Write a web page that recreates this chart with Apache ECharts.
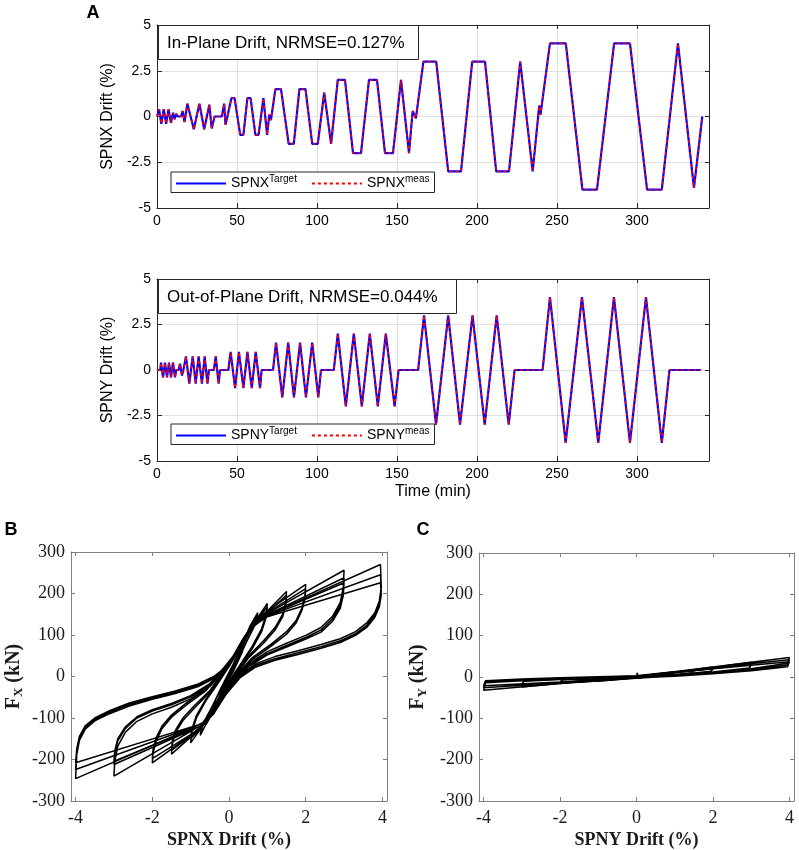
<!DOCTYPE html>
<html>
<head>
<meta charset="utf-8">
<script src="https://cdn.jsdelivr.net/npm/echarts@6/dist/echarts.min.js"></script>
<style>
  html, body { margin: 0; padding: 0; background: #fff; }
  #chart { width: 799px; height: 850px; }
</style>
</head>
<body>
<div id="chart"></div>
<script>
// drift histories, [time (min), drift (%)]
const spnxTarget = [
  [0,0],[1.3,0.4],[2.7,-0.4],[4.2,0.4],[5.7,-0.4],[7.2,0.4],[8.7,-0.35],[10,0.2],[11,-0.15],[12,0.15],[13,0],[15,0],[16,0.3],[17.2,-0.3],
  [19,0.7],[20,0.7],[23,-0.7],[24,-0.7],[26.5,0.7],[27.5,0.7],[29.5,-0.7],[30.5,-0.7],[32.7,0.65],[34.2,-0.65],[36,0],[40.5,0],[42,0.7],[42.8,-0.45],[44,0],
  [46.5,1],[48.5,1],[52,-1],[54,-1],[56.5,1],[58.5,1],[61.5,-1],[63.5,-1],[66.5,1],[68.8,-1],[70.2,0.1],[71.2,-0.2],
  [74,1.5],[77.5,1.5],[82.3,-1.5],[85.5,-1.5],[89,1.5],[92.8,1.5],[97,-1.5],[100.5,-1.5],[104.5,1.3],[108.8,-1.5],
  [113,2],[117.5,2],[122.5,-2],[127.5,-2],[132.5,2],[137.5,2],[142.5,-2],[147.5,-2],[152.5,2],[157.5,-2],[159.8,0.3],[160.8,0.1],[161.8,-0.1],
  [166.5,3],[174.5,3],[182,-3],[190,-3],[197,3],[205,3],[212,-3],[220,-3],[227,3],[234.8,-3],[238.9,0.6],[239.7,0.1],[240.6,0.7],
  [245.6,4],[255.5,4],[265.9,-4],[275,-4],[285.7,4],[295.6,4],[306.3,-4],[315.5,-4],[325.6,4],[335.6,-3.9],[340.8,0]
];
// measured follows the target to within the line width
const spnxMeas = spnxTarget;

const spnyTarget = [
  [0,0],[2,0],[2.5,0.4],[3.75,-0.4],[5,0.4],[6.25,-0.4],[7.5,0.4],[8.75,-0.4],[10,0.4],[11.25,-0.4],[12,0],[13.5,0],[14.4,0.35],[15.6,-0.3],[16.5,0],
  [18.1,0.75],[20.2,-0.75],[22.3,0.75],[24.2,-0.75],[26,0.75],[28.1,-0.75],[29.8,0.75],[31.5,-0.75],[32.5,0],[35.5,0],[36.7,0.75],[38.5,-0.75],[39.4,0],[44.6,0],
  [46,1],[48.8,-1],[51.2,1],[54,-1],[56.5,1],[59.2,-1],[61.7,1],[64.4,-1],[65.4,0],[72.5,0],
  [74.4,1.5],[78.3,-1.5],[82,1.5],[85.6,-1.5],[89.4,1.5],[93.1,-1.5],[97,1.5],[100.8,-1.5],[102.5,0],[110.5,0],
  [113,2],[118,-2],[123,2],[128,-2],[133,2],[138,-2],[143,2],[148.5,-2],[151,0],[163.2,0],
  [166.9,3],[174.4,-3],[182,3],[189.4,-3],[197.2,3],[204.8,-3],[212.3,3],[219.8,-3],[223.5,0],[241,0],
  [245.6,4],[255.4,-4],[265.6,4],[275.8,-4],[285.6,4],[295.6,-4],[305.6,4],[315.5,-4],[320.3,0],[340,0]
];
const spnyMeas = spnyTarget;

// Fx vs SPNX drift, [drift (%), force (kN)], one array per drift level
const fxSmall = [[0,0],[0.2,42],[0.4,82],[0.35,62],[0.1,12],[-0.2,-38],[-0.4,-76],[-0.35,-56],[-0.1,-8],[0.2,44],[0.4,84],[0.35,60],[0.1,10],[-0.2,-40],[-0.4,-78],[-0.35,-55],[0,0],
  [0.3,64],[0.55,118],[0.75,150],[0.7,128],[0.45,82],[0.2,32],[-0.1,-22],[-0.35,-70],[-0.55,-108],[-0.75,-138],[-0.7,-118],[-0.45,-74],[-0.2,-26],[0.1,28],[0.35,78],[0.55,122],[0.75,154],[0.7,130],[0.45,84],[0.2,34],[-0.1,-20],[-0.35,-68],[-0.55,-106],[-0.75,-142],[-0.7,-120],[-0.45,-76],[-0.2,-28],[0,5]];
const fx10 = [[0,5],[0.3,62],[0.6,122],[1,176],[0.97,150],[0.85,115],[0.6,72],[0.3,30],[0,-12],[-0.3,-58],[-0.6,-108],[-1,-160],[-0.97,-134],[-0.85,-100],[-0.6,-58],[-0.3,-18],[0,24],
  [0.3,70],[0.6,120],[1,168],[0.97,143],[0.85,108],[0.6,66],[0.3,26],[0,-16],[-0.3,-62],[-0.6,-110],[-1,-150],[-0.97,-127],[-0.85,-94],[-0.6,-54],[-0.3,-14],[0,28]];
const fx15 = [[0,28],[0.3,78],[0.6,124],[1,158],[1.5,205],[1.48,180],[1.4,150],[1.2,118],[0.9,86],[0.5,48],[0.2,8],[-0.1,-32],[-0.4,-76],[-0.7,-116],[-1,-146],[-1.5,-187],[-1.48,-164],[-1.4,-136],[-1.2,-106],[-0.9,-76],[-0.5,-38],[-0.2,2],
  [0.1,42],[0.4,92],[0.7,132],[1,154],[1.5,196],[1.48,172],[1.4,144],[1.2,112],[0.9,80],[0.5,44],[0.2,4],[-0.1,-36],[-0.4,-80],[-0.7,-118],[-1,-143],[-1.5,-178],[-1.48,-157],[-1.4,-130],[-1.2,-100],[-0.9,-70],[-0.5,-34],[-0.2,6],[0.1,46]];
const fx20 = [[0.1,46],[0.4,95],[0.7,134],[1,158],[2,222],[1.98,195],[1.9,165],[1.75,135],[1.5,108],[1.1,78],[0.6,45],[0.25,8],[-0.1,-36],[-0.4,-82],[-0.7,-118],[-1,-142],[-2,-208],[-1.98,-184],[-1.9,-156],[-1.75,-126],[-1.5,-98],[-1.1,-68],[-0.6,-34],[-0.25,4],
  [0.1,44],[0.4,94],[0.7,131],[1,154],[2,212],[1.98,187],[1.9,159],[1.75,129],[1.5,102],[1.1,73],[0.6,40],[0.25,4],[-0.1,-40],[-0.4,-86],[-0.7,-120],[-1,-140],[-2,-198],[-1.98,-175],[-1.9,-148],[-1.75,-120],[-1.5,-93],[-1.1,-63],[-0.6,-29],[-0.25,8],[0.1,48]];
const fx30 = [[0.1,48],[0.4,96],[0.7,133],[1,152],[3,256],[2.98,215],[2.9,178],[2.7,145],[2.4,118],[2,99],[1.5,80],[1,60],[0.5,30],[0.2,0],[-0.1,-40],[-0.4,-86],[-0.7,-116],[-1,-132],[-3,-240],[-2.98,-205],[-2.9,-168],[-2.7,-134],[-2.4,-108],[-2,-90],[-1.5,-74],[-1,-54],[-0.5,-24],[-0.2,6],
  [0.1,44],[0.4,92],[0.7,130],[1,149],[3,238],[2.98,203],[2.9,170],[2.7,139],[2.4,112],[2,94],[1.5,75],[1,55],[0.5,26],[0.2,-4],[-0.1,-44],[-0.4,-88],[-0.7,-117],[-1,-130],[-3,-212],[-2.98,-185],[-2.9,-155],[-2.7,-125],[-2.4,-100],[-2,-83],[-1.5,-68],[-1,-49],[-0.5,-20],[-0.2,8],
  [0.1,42],[0.4,90],[0.7,128],[1,147],[3,226],[2.98,195],[2.9,164],[2.7,133],[2.4,107],[2,90],[1.5,71],[1,52],[0.5,23],[0.2,-6],[-0.1,-46],[-0.4,-90],[-0.7,-118],[-1,-128],[-3,-204],[-2.98,-180],[-2.9,-150],[-2.7,-121],[-2.4,-97],[-2,-80],[-1.5,-65],[-1,-46],[-0.5,-17],[-0.2,10],[0.1,40]];
const fx40 = [[0.1,40],[0.4,90],[0.7,128],[1,148],[3.95,270],[3.97,215],[3.92,182],[3.8,153],[3.6,130],[3.3,108],[2.9,91],[2.4,77],[1.8,62],[1.2,48],[0.7,31],[0.3,5],[-0.1,-40],[-0.4,-84],[-0.7,-112],[-1,-126],[-4,-246],[-3.97,-188],[-3.9,-154],[-3.75,-127],[-3.5,-107],[-3.1,-89],[-2.6,-71],[-2,-55],[-1.4,-41],[-0.8,-24],[-0.4,-5],
  [0,25],[0.3,75],[0.6,118],[1,146],[3.95,245],[3.97,205],[3.92,174],[3.8,147],[3.6,124],[3.3,103],[2.9,86],[2.4,72],[1.8,57],[1.2,43],[0.7,27],[0.3,1],[-0.1,-43],[-0.4,-86],[-0.7,-113],[-1,-124],[-4,-224],[-3.97,-180],[-3.9,-148],[-3.75,-122],[-3.5,-103],[-3.1,-85],[-2.6,-67],[-2,-52],[-1.4,-38],[-0.8,-21],[-0.4,-2],
  [0,27],[0.3,77],[0.6,119],[1,144],[3.95,226],[3.97,196],[3.92,168],[3.8,142],[3.6,119],[3.3,99],[2.9,82],[2.4,68],[1.8,53],[1.2,39],[0.7,23],[0.3,-2],[-0.1,-45],[-0.4,-88],[-0.7,-114],[-1,-122],[-4,-208],[-3.97,-174],[-3.9,-144],[-3.75,-119],[-3.5,-100],[-3.1,-82],[-2.6,-64],[-2,-49],[-1.4,-35],[-0.8,-18],[-0.4,0],[0,28]];

// Fy vs SPNY drift
const fySmall = [[0,0],[0.02,10],[0.04,0],[0.4,5],[0.75,10],[0.7,6],[0,-1],[-0.75,-8],[-0.7,-4],[0,1],[1,13],[0.95,8],[0,-2],[-1,-10],[-0.95,-5],[0,1],
  [1.5,17],[1.45,10],[0.8,4],[0,-2],[-1.5,-13],[-1.45,-6],[-0.8,-3],[0,1]];
const fy20 = [[0,1],[1,11],[2,24],[1.95,14],[1,5],[0,-2],[-1,-7],[-2,-16],[-1.95,-7],[-1,-3],[0,1],[1,10],[2,21],[1.95,12],[1,4],[0,-2],[-1,-6],[-2,-14],[-1.95,-6],[-1,-2],[0,1]];
const fy30 = [[0,2],[1.5,17],[3,36],[2.95,22],[2,12],[1,5],[0,-2],[-1.5,-11],[-3,-24],[-2.95,-10],[-2,-6],[-1,-2],[0,2],[1.5,15],[3,31],[2.95,19],[2,10],[1,4],[0,-2],[-1.5,-10],[-3,-20],[-2.95,-8],[-2,-4],[-1,-1],[0,2]];
const fy40 = [[0,2],[2,24],[4,47],[3.95,33],[3,20],[2,11],[1,4],[0,-3],[-2,-16],[-4,-32],[-3.95,-14],[-3,-9],[-2,-5],[-1,-1],[0,3],
  [2,23],[4,42],[3.95,29],[3,17],[2,9],[1,3],[0,-3],[-2,-14],[-4,-26],[-3.95,-11],[-3,-7],[-2,-4],[-1,0],[0,3],
  [2,20],[4,37],[3.95,25],[3,15],[2,8],[1,2],[0,-2],[-2,-12],[-4,-21],[-3.95,-9],[-3,-5],[-2,-2],[0,3]];

const driftTicks = [-4, -2, 0, 2, 4];

const sans = "'Liberation Sans', Arial, sans-serif";
const serif = "'Liberation Serif', 'Times New Roman', serif";
const darkAxis = '#262626';
const grayAxis = '#7f7f7f';

function timeX(grid, name) {
  return {
    type: 'value', gridIndex: grid, position: 'bottom', min: 0, max: 345, interval: 50,
    name: name, nameLocation: 'middle', nameGap: 23,
    nameTextStyle: { fontFamily: sans, fontSize: 16, color: '#000' },
    axisLine: { show: true, onZero: false, lineStyle: { color: darkAxis } },
    axisTick: { show: true, inside: true, length: 5, lineStyle: { color: darkAxis } },
    axisLabel: { showMaxLabel: false, fontFamily: sans, fontSize: 14, color: '#000', margin: 6 },
    splitLine: { show: true, lineStyle: { color: '#e0e0e0' } }
  };
}

function driftY(grid, name) {
  return {
    type: 'value', gridIndex: grid, position: 'left', min: -5, max: 5, interval: 2.5,
    name: name, nameLocation: 'middle', nameGap: 33,
    nameTextStyle: { fontFamily: sans, fontSize: 16, color: '#000' },
    axisLine: { show: true, onZero: false, lineStyle: { color: darkAxis } },
    axisTick: { show: true, inside: true, length: 5, lineStyle: { color: darkAxis } },
    axisLabel: { fontFamily: sans, fontSize: 14, color: '#000', margin: 6 },
    splitLine: { show: true, lineStyle: { color: '#e0e0e0' } }
  };
}

function forceX(grid, name) {
  return {
    type: 'value', gridIndex: grid, position: 'bottom', min: -4.12, max: 4.12,
    name: name, nameLocation: 'middle', nameGap: 30,
    nameTextStyle: { fontFamily: serif, fontSize: 18, fontWeight: 'bold', color: '#1a1a1a' },
    axisLine: { show: true, onZero: false, lineStyle: { color: grayAxis } },
    axisTick: { show: true, inside: true, length: 4, customValues: driftTicks, lineStyle: { color: grayAxis } },
    axisLabel: { customValues: driftTicks, fontFamily: serif, fontSize: 18, color: '#1a1a1a', margin: 8 },
    splitLine: { show: false }
  };
}

function forceY(grid, sub, gap) {
  const f = { fontFamily: serif, fontWeight: 'bold', fontSize: 20, color: '#1a1a1a' };
  return {
    type: 'value', gridIndex: grid, position: 'left', min: -300, max: 300, interval: 100,
    name: '{f|F}{s|' + sub + '}{f| (kN)}', nameLocation: 'middle', nameGap: gap, nameRotate: 90,
    nameTextStyle: Object.assign({}, f, {
      rich: { f: f, s: Object.assign({}, f, { fontSize: 13, padding: [10, 0, 0, 0] }) }
    }),
    axisLine: { show: true, onZero: false, lineStyle: { color: grayAxis } },
    axisTick: { show: true, inside: true, length: 4, lineStyle: { color: grayAxis } },
    axisLabel: { fontFamily: serif, fontSize: 18, color: '#1a1a1a', margin: 6 },
    splitLine: { show: false }
  };
}

// top / right copies of each axis: only the box line and inward ticks
function mirror(grid, pos, min, max, interval, color, custom) {
  return {
    type: 'value', gridIndex: grid, position: pos, min: min, max: max, interval: interval,
    axisLine: { show: true, onZero: false, lineStyle: { color: color } },
    axisTick: { show: true, inside: true, length: 4, customValues: custom, lineStyle: { color: color } },
    axisLabel: { show: false },
    splitLine: { show: false }
  };
}

function driftLine(name, data, grid, measured) {
  return {
    name: name, type: 'line', xAxisIndex: grid, yAxisIndex: grid, data: data,
    symbol: 'none', z: measured ? 3 : 2,
    itemStyle: { color: measured ? '#ff0000' : '#0000ff' },
    lineStyle: measured
      ? { color: '#ff0000', width: 1.5, type: [3, 3] }
      : { color: '#0000ff', width: 2.2 }
  };
}

function loopLine(data, grid) {
  return {
    type: 'line', xAxisIndex: grid, yAxisIndex: grid, data: data, symbol: 'none',
    lineStyle: { color: '#000', width: 1.5 }
  };
}

const legendLabels = {
  'SPNX Target': '{n|SPNX}{s|Target}',
  'SPNX meas': '{n|SPNX}{s|meas}',
  'SPNY Target': '{n|SPNY}{s|Target}',
  'SPNY meas': '{n|SPNY}{s|meas}'
};

function legendBox(names, top) {
  return {
    data: names, selectedMode: false, orient: 'horizontal',
    left: 171, top: top, itemWidth: 50, itemHeight: 14, itemGap: 14,
    padding: [2, 5, 2, 4],
    borderColor: darkAxis, borderWidth: 1, backgroundColor: '#fff',
    itemStyle: { opacity: 0 },
    formatter: name => legendLabels[name],
    textStyle: {
      fontFamily: sans, fontSize: 14, color: '#000',
      rich: {
        n: { fontFamily: sans, fontSize: 14, color: '#000' },
        s: { fontFamily: sans, fontSize: 10, color: '#000', padding: [0, 0, 9, 0] }
      }
    }
  };
}

const chart = echarts.init(document.getElementById('chart'));
chart.setOption({
  animation: false,
  backgroundColor: '#fff',
  textStyle: { fontFamily: sans },
  grid: [
    { left: 157, top: 25, width: 552, height: 183 },
    { left: 157, top: 279, width: 552, height: 182 },
    { left: 71, top: 552, width: 316, height: 249 },
    { left: 479, top: 553, width: 315, height: 248 }
  ],
  xAxis: [
    timeX(0, ''), timeX(1, 'Time (min)'),
    forceX(2, 'SPNX Drift (%)'), forceX(3, 'SPNY Drift (%)'),
    mirror(0, 'top', 0, 345, 50, darkAxis), mirror(1, 'top', 0, 345, 50, darkAxis),
    mirror(2, 'top', -4.12, 4.12, null, grayAxis, driftTicks), mirror(3, 'top', -4.12, 4.12, null, grayAxis, driftTicks)
  ],
  yAxis: [
    driftY(0, 'SPNX Drift (%)'), driftY(1, 'SPNY Drift (%)'),
    forceY(2, 'X', 46), forceY(3, 'Y', 50),
    mirror(0, 'right', -5, 5, 2.5, darkAxis), mirror(1, 'right', -5, 5, 2.5, darkAxis),
    mirror(2, 'right', -300, 300, 100, grayAxis), mirror(3, 'right', -300, 300, 100, grayAxis)
  ],
  legend: [
    legendBox(['SPNX Target', 'SPNX meas'], 172),
    legendBox(['SPNY Target', 'SPNY meas'], 424)
  ],
  graphic: [
    { type: 'rect', z: 100, shape: { x: 158.5, y: 25.5, width: 260, height: 34 }, style: { fill: '#fff', stroke: darkAxis, lineWidth: 1 } },
    { type: 'text', z: 101, x: 167, y: 43, style: { text: 'In-Plane Drift, NRMSE=0.127%', fontFamily: sans, fontSize: 17, fill: '#000', verticalAlign: 'middle' } },
    { type: 'rect', z: 100, shape: { x: 158.5, y: 279.5, width: 298, height: 34 }, style: { fill: '#fff', stroke: darkAxis, lineWidth: 1 } },
    { type: 'text', z: 101, x: 167, y: 297, style: { text: 'Out-of-Plane Drift, NRMSE=0.044%', fontFamily: sans, fontSize: 17, fill: '#000', verticalAlign: 'middle' } },
    { type: 'text', z: 101, x: 93, y: 13, style: { text: 'A', fontFamily: sans, fontWeight: 'bold', fontSize: 18, fill: '#000', align: 'center', verticalAlign: 'middle' } },
    { type: 'text', z: 101, x: 11, y: 530, style: { text: 'B', fontFamily: sans, fontWeight: 'bold', fontSize: 18, fill: '#000', align: 'center', verticalAlign: 'middle' } },
    { type: 'text', z: 101, x: 423, y: 530, style: { text: 'C', fontFamily: sans, fontWeight: 'bold', fontSize: 18, fill: '#000', align: 'center', verticalAlign: 'middle' } }
  ],
  series: [
    driftLine('SPNX Target', spnxTarget, 0, false),
    driftLine('SPNX meas', spnxMeas, 0, true),
    driftLine('SPNY Target', spnyTarget, 1, false),
    driftLine('SPNY meas', spnyMeas, 1, true),
    loopLine(fxSmall, 2), loopLine(fx10, 2), loopLine(fx15, 2), loopLine(fx20, 2), loopLine(fx30, 2), loopLine(fx40, 2),
    loopLine(fySmall, 3), loopLine(fy20, 3), loopLine(fy30, 3), loopLine(fy40, 3)
  ]
});
</script>
</body>
</html>
